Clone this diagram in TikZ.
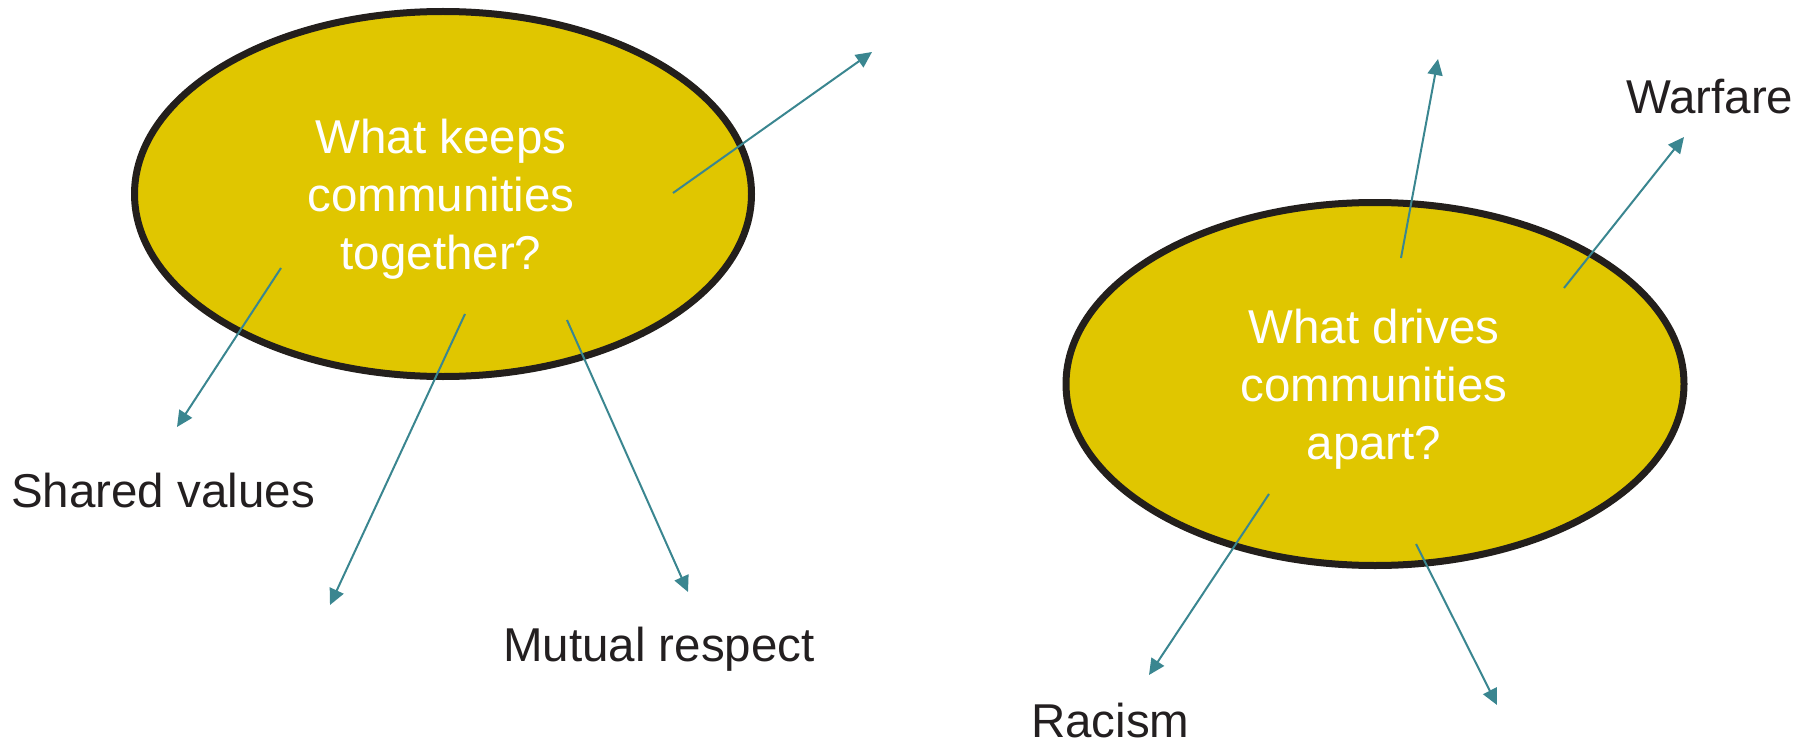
\documentclass[tikz,border=0pt]{standalone}
\usepackage{fontspec}
\setmainfont{Liberation Sans}
\usetikzlibrary{arrows.meta,shapes.geometric}
\definecolor{fillyellow}{RGB}{224,198,0}
\definecolor{rimdark}{RGB}{35,31,28}
\definecolor{arrowteal}{RGB}{58,134,144}
\definecolor{textdark}{RGB}{35,31,32}
\tikzset{
  bubble/.style={ellipse, draw=rimdark, fill=fillyellow, line width=7pt, inner sep=0pt},
  qtext/.style={text=white, align=center, font=\fontsize{47.5}{58}\selectfont, inner sep=0pt},
  lbl/.style={text=textdark, font=\fontsize{47.5}{58}\selectfont, inner sep=0pt, anchor=base west},
  ray/.style={draw=arrowteal, line width=2pt, -{Triangle[length=16pt,width=15pt]}}
}
\begin{document}
\begin{tikzpicture}[x=1pt,y=-1pt]
\useasboundingbox (0,0) rectangle (1802,741);
% bubbles
\node[bubble, minimum width=617pt, minimum height=365pt] (keep) at (443,194) {};
\node[bubble, minimum width=618pt, minimum height=363pt] (drive) at (1375,384) {};
\node[qtext] (keepq) at (441,199) {What keeps\\communities\\together?};
\node[qtext] (driveq) at (1374,389) {What drives\\communities\\apart?};
% labels
\node[lbl] (shared) at (11,507) {Shared values};
\node[lbl] (mutual) at (503,661) {Mutual respect};
\node[lbl] (warfare) at (1626,114) {Warfare};
\node[lbl] (racism) at (1031,737) {Racism};
% arrow ends
\coordinate (k1s) at (673,193);  \coordinate (k1e) at (872,52);
\coordinate (k2s) at (281,268);  \coordinate (k2e) at (177,427);
\coordinate (k3s) at (465,314);  \coordinate (k3e) at (330,605);
\coordinate (k4s) at (567,320);  \coordinate (k4e) at (688,592);
\coordinate (d1s) at (1401,258); \coordinate (d1e) at (1438,59);
\coordinate (d2s) at (1564,288); \coordinate (d2e) at (1684,137);
\coordinate (d3s) at (1269,494); \coordinate (d3e) at (1149,675);
\coordinate (d4s) at (1416,544); \coordinate (d4e) at (1497,705);
\draw[ray] (k1s) -- (k1e);
\draw[ray] (k2s) -- (k2e);
\draw[ray] (k3s) -- (k3e);
\draw[ray] (k4s) -- (k4e);
\draw[ray] (d1s) -- (d1e);
\draw[ray] (d2s) -- (d2e);
\draw[ray] (d3s) -- (d3e);
\draw[ray] (d4s) -- (d4e);
\end{tikzpicture}
\end{document}
